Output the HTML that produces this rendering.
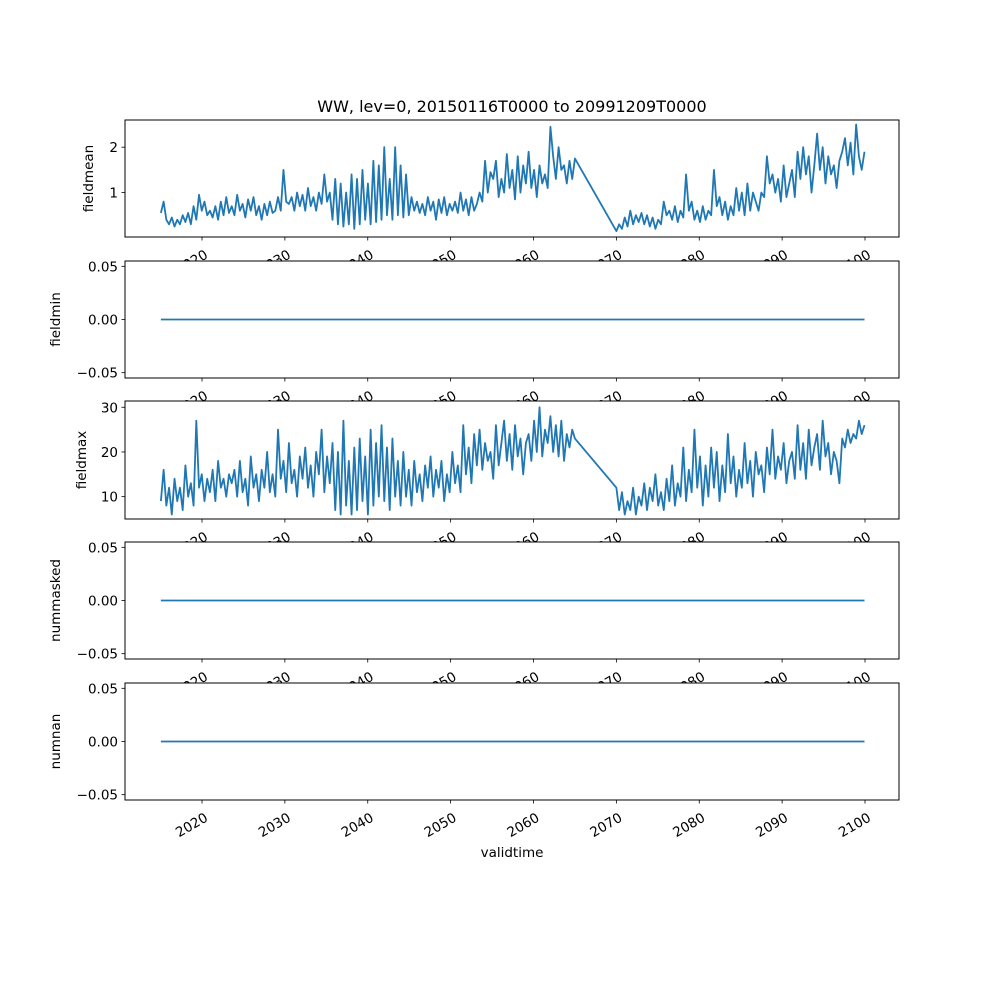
<!DOCTYPE html>
<html><head><meta charset="utf-8"><style>
html,body{margin:0;padding:0;background:#fff}
svg{display:block;font-family:"DejaVu Sans","Liberation Sans",sans-serif}
</style></head><body>
<svg id="fig" width="1000" height="1000" viewBox="0 0 1000 1000" xmlns="http://www.w3.org/2000/svg">
<rect width="1000" height="1000" fill="#fff"/>
<text x="512" y="112" font-size="16" text-anchor="middle">WW, lev=0, 20150116T0000 to 20991209T0000</text>
<g id="plots"></g>
<text x="512" y="857" font-size="13.5" text-anchor="middle">validtime</text>
</svg>
<script>
const xTicks = [2020,2030,2040,2050,2060,2070,2080,2090,2100];
const meanSeg1 = [0.55,0.8,0.4,0.3,0.45,0.25,0.4,0.3,0.5,
0.35,0.55,0.3,0.7,0.4,0.95,0.6,0.8,0.5,
0.6,0.45,0.7,0.4,0.8,0.5,0.9,0.55,0.7,
0.5,0.95,0.6,0.75,0.45,0.85,0.6,0.9,0.5,
0.7,0.4,0.75,0.5,0.8,0.55,0.6,0.9,0.6,
1.5,0.8,0.75,0.9,0.6,1.0,0.7,0.95,0.6,
1.1,0.7,0.9,0.6,1.0,0.75,1.4,0.8,1.0,
0.4,1.3,0.3,1.2,0.25,1.0,0.3,1.4,0.2,
1.3,0.3,1.5,0.4,1.2,0.3,1.7,0.35,1.6,
0.4,2.0,0.5,1.3,0.4,2.0,0.5,1.6,0.45,
1.4,0.5,0.9,0.6,0.8,0.55,0.75,0.5,0.9,
0.6,0.8,0.4,0.85,0.55,0.9,0.5,0.75,0.6,
0.8,0.55,1.0,0.6,0.85,0.5,0.9,0.6,0.75,
1.0,0.8,1.7,1.0,1.45,1.3,1.7,0.9,1.3,
1.0,1.85,1.1,1.5,0.85,1.8,1.0,1.6,1.2,
1.9,1.1,1.5,0.9,1.6,1.2,1.4,1.1,2.45,
1.8,1.3,2.0,1.5,1.6,1.2,1.7,1.3,1.75];
const meanSeg2 = [0.15,0.3,0.2,0.45,0.25,0.6,0.3,0.5,0.35,
0.55,0.3,0.5,0.25,0.45,0.2,0.4,0.3,0.8,
0.5,0.6,0.4,0.7,0.35,0.6,0.45,1.4,0.6,
0.8,0.4,0.6,0.35,0.7,0.4,0.6,0.5,1.5,
0.7,0.9,0.5,0.8,0.4,0.7,0.5,1.1,0.6,
1.0,0.5,1.2,0.6,1.0,0.8,0.6,1.0,0.9,
1.8,1.2,1.4,1.0,1.3,0.8,1.6,0.9,1.2,
1.5,0.9,1.9,1.3,2.0,1.4,1.8,1.0,1.6,
2.3,1.5,2.0,1.2,1.8,1.4,1.6,1.1,1.7,
1.9,2.2,1.6,2.1,1.4,2.5,1.8,1.5,1.9];
const maxSeg1 = [9,16,8,12,6,14,9,12,7,
17,10,13,8,27,12,15,9,14,
11,16,9,18,12,14,10,15,13,
16,10,18,11,14,8,19,12,15,
9,16,12,20,11,15,10,25,14,
18,11,22,13,16,10,19,14,21,
12,17,10,20,15,25,11,19,13,
22,7,20,6,27,8,18,6,21,
7,23,9,19,6,25,8,22,10,
26,9,21,7,23,10,18,8,20,
10,16,8,18,11,15,9,17,12,
19,10,16,12,18,9,15,11,20,
13,17,11,26,15,21,13,24,17,
25,16,22,18,20,14,26,17,22,
27,18,24,16,26,19,23,15,22,
24,18,27,20,30,19,25,22,28,
20,26,19,27,18,24,21,25,23];
const maxSeg2 = [12,7,11,6,9,7,12,6,10,
8,13,7,12,9,15,8,11,7,
14,9,17,8,13,10,21,9,16,
11,25,12,19,8,17,10,21,12,
20,9,17,11,24,13,19,10,16,
12,22,13,18,10,20,15,17,11,
21,15,25,14,19,16,22,13,18,
20,14,26,16,22,14,25,17,21,
24,16,27,19,22,15,20,18,13,
23,21,25,22,24,23,27,24,26];
const seg1Range = [2015.04, 2065.0];
const seg2Range = [2070.0, 2099.94];
const flatValues = [0, 0];
const meanTicks = [1, 2];
const maxTicks = [10, 20, 30];
const flatTicks = [-0.05, 0.00, 0.05];

const NS = "http://www.w3.org/2000/svg";
const L = 125, R = 899;
const xs = y => 202 + (y - 2020) * (865 - 202) / 80;
const root = document.getElementById('plots');
function mk(tag, attrs, parent) {
  const e = document.createElementNS(NS, tag);
  for (const k in attrs) e.setAttribute(k, attrs[k]);
  parent.appendChild(e);
  return e;
}
function times(range, n) { const out = []; for (let i = 0; i < n; i++) out.push(range[0] + (range[1] - range[0]) * i / (n - 1)); return out; }

const panels = [
  {name:'fieldmean', top:120, bot:237, ymin:0.02, ymax:2.6, ticks:meanTicks, fmt:v=>String(v), lx:93,
   segs:[[times(seg1Range, meanSeg1.length), meanSeg1],[times(seg2Range, meanSeg2.length), meanSeg2]]},
  {name:'fieldmin', top:261, bot:378, ymin:-0.055, ymax:0.055, ticks:flatTicks, fmt:v=>(v<0?'\u2212':'')+Math.abs(v).toFixed(2), lx:60,
   segs:[[[2015.04, 2099.94], flatValues]]},
  {name:'fieldmax', top:401, bot:519, ymin:5, ymax:31.4, ticks:maxTicks, fmt:v=>String(v), lx:86,
   segs:[[times(seg1Range, maxSeg1.length), maxSeg1],[times(seg2Range, maxSeg2.length), maxSeg2]]},
  {name:'nummasked', top:542, bot:659, ymin:-0.055, ymax:0.055, ticks:flatTicks, fmt:v=>(v<0?'\u2212':'')+Math.abs(v).toFixed(2), lx:60,
   segs:[[[2015.04, 2099.94], flatValues]]},
  {name:'numnan', top:683, bot:800, ymin:-0.055, ymax:0.055, ticks:flatTicks, fmt:v=>(v<0?'\u2212':'')+Math.abs(v).toFixed(2), lx:60,
   segs:[[[2015.04, 2099.94], flatValues]]}
];

panels.forEach(p => {
  const g = mk('g', {}, root);
  
  
  const ys = v => p.bot - (v - p.ymin) / (p.ymax - p.ymin) * (p.bot - p.top);
  const bg = mk('rect', {x:L, y:p.top, width:R-L, height:p.bot-p.top, fill:'#fff'}, g);
  
  
  let pts = [];
  p.segs.forEach(s => { s[0].forEach((t, i) => pts.push(xs(t).toFixed(2) + ',' + ys(s[1][i]).toFixed(2))); });
  const line = mk('polyline', {points:pts.join(' '), fill:'none', stroke:'#1f77b4', 'stroke-width':1.8, 'stroke-linejoin':'round'}, g);
  
  
  const fr = mk('rect', {x:L, y:p.top, width:R-L, height:p.bot-p.top, fill:'none', stroke:'#000', 'stroke-width':1}, g);
  
  
  p.ticks.forEach(v => {
    const y = ys(v);
    mk('line', {x1:L-3.5, x2:L, y1:y, y2:y, stroke:'#000', 'stroke-width':0.8}, g);
    const t = mk('text', {x:L-7, y:y+5, 'font-size':13.5, 'text-anchor':'end'}, g);
    
    
    t.textContent = p.fmt(v);
  });
  const yl = mk('text', {transform:`translate(${p.lx},${(p.top+p.bot)/2}) rotate(-90)`, 'font-size':13.5, 'text-anchor':'middle'}, g);
  
  
  yl.textContent = p.name;
  xTicks.forEach(yr => {
    const x = xs(yr);
    mk('line', {x1:x, x2:x, y1:p.bot, y2:p.bot+3.5, stroke:'#000', 'stroke-width':0.8}, g);
    const t = mk('text', {transform:`translate(${x+2},${p.bot+12}) rotate(-30)`, 'font-size':13.5, 'text-anchor':'end', 'dominant-baseline':'hanging'}, g);
    
    
    t.textContent = yr;
  });
});
</script>
</body></html>
